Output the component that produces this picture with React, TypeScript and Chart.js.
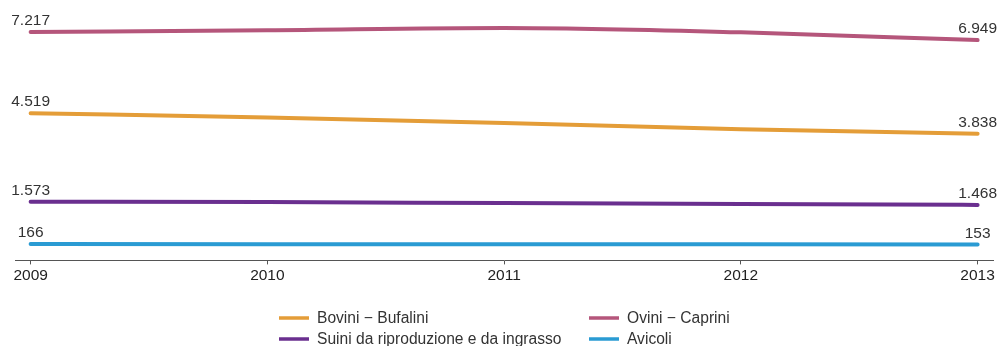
import React, { useEffect, useRef } from "react";
import { Chart, registerables } from "chart.js";

Chart.register(...registerables);

// Consistenza del bestiame (migliaia di capi), 2009-2013
const years = [2009, 2010, 2011, 2012, 2013];
const bovini = [4519, 4376, 4196, 3986, 3838];
const ovini = [7217, 7274, 7350, 7207, 6949];
const suini = [1573, 1565, 1528, 1496, 1468];
const avicoli = [166, 163, 160, 156, 153];

const seriesNames = [
  "Bovini \u2212 Bufalini",
  "Ovini \u2212 Caprini",
  "Suini da riproduzione e da ingrasso",
  "Avicoli",
];
const seriesColors = ["#e49d38", "#b5567b", "#6a2f8f", "#2a9bd3"];

const FONT = "'Liberation Sans', Arial, sans-serif";
const TEXT = "#333333";

function fmt(v: number): string {
  return String(Math.round(v)).replace(/\B(?=(\d{3})+(?!\d))/g, ".");
}

// Values written above the first and last point of every line
const endLabels = {
  id: "endLabels",
  afterDatasetsDraw(chart: any) {
    const ctx = chart.ctx;
    ctx.save();
    ctx.font = `15.5px ${FONT}`;
    ctx.fillStyle = TEXT;
    ctx.textAlign = "center";
    ctx.textBaseline = "middle";
    chart.data.datasets.forEach((ds: any, i: number) => {
      const meta = chart.getDatasetMeta(i);
      const pts = meta.data;
      [0, pts.length - 1].forEach((k) => {
        const el = pts[k];
        ctx.fillText(fmt(ds.data[k].y), el.x, el.y - 11);
      });
    });
    ctx.restore();
  },
};

// Two-column legend under the axis
const gridLegend = {
  id: "gridLegend",
  afterDraw(chart: any) {
    const ctx = chart.ctx;
    const cols = [279, 589];
    const rows = [318, 339];
    ctx.save();
    ctx.font = `15.6px ${FONT}`;
    ctx.textAlign = "left";
    ctx.textBaseline = "middle";
    chart.data.datasets.forEach((ds: any, i: number) => {
      const x = cols[i % 2];
      const y = rows[Math.floor(i / 2)];
      ctx.strokeStyle = ds.borderColor;
      ctx.lineWidth = 3.5;
      ctx.lineCap = "butt";
      ctx.beginPath();
      ctx.moveTo(x, y);
      ctx.lineTo(x + 30, y);
      ctx.stroke();
      ctx.fillStyle = TEXT;
      ctx.fillText(ds.label, x + 38, y + 1);
    });
    ctx.restore();
  },
};

export default function App() {
  const ref = useRef<HTMLCanvasElement | null>(null);

  useEffect(() => {
    if (!ref.current) return;
    const all = [bovini, ovini, suini, avicoli];
    const chart = new Chart(ref.current, {
      type: "line",
      data: {
        datasets: all.map((vals, i) => ({
          label: seriesNames[i],
          data: years.map((y, k) => ({ x: y, y: vals[k] })),
          borderColor: seriesColors[i],
          backgroundColor: seriesColors[i],
          borderWidth: 4,
          pointRadius: 0,
          cubicInterpolationMode: "monotone" as const,
          borderCapStyle: "round" as const,
          fill: false,
        })),
      },
      options: {
        responsive: false,
        animation: false,
        layout: { padding: { top: 0, left: 15, right: 6, bottom: 59 } },
        plugins: {
          legend: { display: false },
          tooltip: { enabled: false },
        },
        scales: {
          x: {
            type: "linear",
            min: 2008.934,
            max: 2013.065,
            afterBuildTicks: (axis: any) => {
              axis.ticks = years.map((v) => ({ value: v }));
            },
            grid: {
              drawOnChartArea: false,
              drawTicks: true,
              tickLength: 4,
              color: "#555555",
            },
            border: { display: true, color: "#555555", width: 1 },
            ticks: {
              padding: 2,
              color: "#222222",
              font: { family: FONT, size: 15.5, lineHeight: 1.2 },
              callback: (v: any) => String(v),
              maxRotation: 0,
              autoSkip: false,
            },
          },
          y: {
            display: false,
            min: -378,
            max: 8283,
          },
        },
      },
      plugins: [endLabels, gridLegend],
    });
    return () => chart.destroy();
  }, []);

  return (
    <div style={{ position: "absolute", left: 0, top: 0, width: 999, height: 346, background: "#ffffff" }}>
      <canvas ref={ref} width={999} height={346} />
    </div>
  );
}
